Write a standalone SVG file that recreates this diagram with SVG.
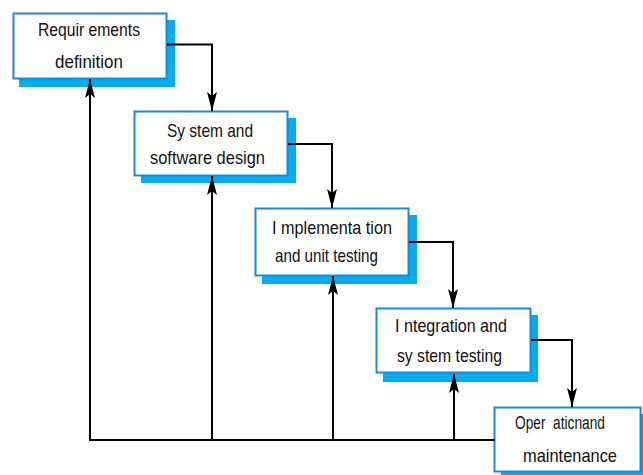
<svg xmlns="http://www.w3.org/2000/svg" width="643" height="475" viewBox="0 0 643 475">
<defs>
<style>
.sh{fill:#00aeef;stroke:none}
.bx{fill:#fff;stroke:#1a8ad8;stroke-width:2}
.t{font-family:"Liberation Sans",Arial,sans-serif;font-size:19px;fill:#111}
.c{fill:none;stroke:#000;stroke-width:2}
</style>
<marker id="ah" markerUnits="userSpaceOnUse" viewBox="-1 -6 21 12" refX="19" refY="0" markerWidth="21" markerHeight="12" orient="auto">
<path d="M0,-5 L19,0 L0,5 L4,0 Z" fill="#000"/>
</marker>
</defs>
<rect width="643" height="475" fill="#fff"/>
<g id="n1">
<rect class="sh" x="19" y="20" width="156" height="67"/>
<rect class="bx" x="13.5" y="13.5" width="153" height="65"/>
<text class="t" x="38" y="36" textLength="102" lengthAdjust="spacingAndGlyphs">Requir ements</text>
<text class="t" x="55" y="68" textLength="68" lengthAdjust="spacingAndGlyphs">definition</text>
</g>
<g id="n2">
<rect class="sh" x="141" y="118" width="155" height="65"/>
<rect class="bx" x="134.5" y="111.5" width="153" height="64"/>
<text class="t" x="167" y="137" textLength="86" lengthAdjust="spacingAndGlyphs">Sy stem and</text>
<text class="t" x="150" y="164" textLength="115" lengthAdjust="spacingAndGlyphs">software design</text>
</g>
<g id="n3">
<rect class="sh" x="262" y="215" width="155" height="69"/>
<rect class="bx" x="255.5" y="208.5" width="153" height="67"/>
<text class="t" x="272" y="234" textLength="120" lengthAdjust="spacingAndGlyphs">I mplementa tion</text>
<text class="t" x="275" y="262" textLength="103" lengthAdjust="spacingAndGlyphs">and unit testing</text>
</g>
<g id="n4">
<rect class="sh" x="383" y="315" width="155" height="67"/>
<rect class="bx" x="376.5" y="308.5" width="154" height="64"/>
<text class="t" x="395" y="332" textLength="112" lengthAdjust="spacingAndGlyphs">I ntegration and</text>
<text class="t" x="397" y="362" textLength="105" lengthAdjust="spacingAndGlyphs">sy stem testing</text>
</g>
<g id="n5">
<rect class="sh" x="501" y="414" width="142" height="61"/>
<rect class="bx" x="494.5" y="407.5" width="146" height="64"/>
<text class="t" x="515" y="429" textLength="90" lengthAdjust="spacingAndGlyphs" xml:space="preserve">Oper  aticnand</text>
<text class="t" x="523" y="462" textLength="94" lengthAdjust="spacingAndGlyphs">maintenance</text>
</g>
<g id="connectors">
<path class="c" d="M167,44.5 H212 V111" marker-end="url(#ah)"/>
<path class="c" d="M288,144 H332 V208" marker-end="url(#ah)"/>
<path class="c" d="M409,242 H453 V308" marker-end="url(#ah)"/>
<path class="c" d="M531,340 H572 V407" marker-end="url(#ah)"/>
<path class="c" d="M495,440 H90"/>
<path class="c" d="M90,441 V79" marker-end="url(#ah)"/>
<path class="c" d="M212,440 V176" marker-end="url(#ah)"/>
<path class="c" d="M333,440 V276" marker-end="url(#ah)"/>
<path class="c" d="M454,440 V374" marker-end="url(#ah)"/>
</g>
</svg>
